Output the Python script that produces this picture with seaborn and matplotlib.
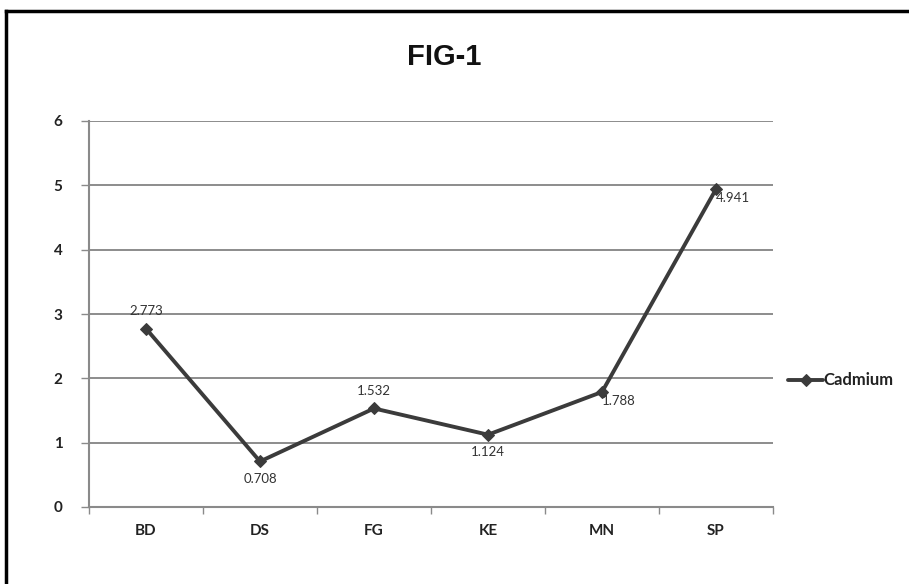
import matplotlib
matplotlib.use("Agg")
import matplotlib.pyplot as plt
import seaborn as sns
import pandas as pd
from matplotlib.lines import Line2D

sites = ["BD", "DS", "FG", "KE", "MN", "SP"]
cadmium = [2.773, 0.708, 1.532, 1.124, 1.788, 4.941]
label_text = ["2.773", "0.708", "1.532", "1.124", "1.788", "4.941"]
yticks = [0, 1, 2, 3, 4, 5, 6]

sns.set_theme(style="white")
plt.rcParams["font.family"] = ["Lato", "DejaVu Sans"]

df = pd.DataFrame({"site": sites, "Cadmium": cadmium})

fig = plt.figure(figsize=(9.09, 5.84), dpi=100)
ax = fig.add_axes([89/909, 1-507/584, (773-89)/909, (507-121)/584])

line_color = "#3b3b3b"
sns.lineplot(data=df, x="site", y="Cadmium", ax=ax, color=line_color, lw=2.8,
             marker="D", markersize=6, markeredgecolor=line_color, sort=False,
             label="Cadmium")

ax.set_ylim(0, 6)
ax.set_xlim(-0.5, len(sites) - 0.5)
ax.set_yticks(yticks)
ax.set_yticklabels([str(v) for v in yticks], fontsize=11, fontweight="bold", color="#222222")
ax.set_xticks([i - 0.5 for i in range(len(sites) + 1)])
ax.set_xticklabels([])
ax.set_xticks(range(len(sites)), minor=True)
ax.set_xticklabels(sites, minor=True, fontsize=11, fontweight="bold", color="#222222")
ax.tick_params(axis="x", which="major", direction="out", length=5, width=1, color="#8a8a8a", bottom=True)
ax.tick_params(axis="x", which="minor", length=0, pad=12)
ax.tick_params(axis="y", direction="out", length=6, width=1, color="#8a8a8a", left=True, pad=13)
ax.set_xlabel("")
ax.set_ylabel("")

ax.yaxis.grid(True, color="#8c8c8c", lw=1.4)
ax.xaxis.grid(False)
ax.set_axisbelow(True)
for s in ["top", "right"]:
    ax.spines[s].set_visible(False)
for s in ["left", "bottom"]:
    ax.spines[s].set_color("#8a8a8a")
    ax.spines[s].set_linewidth(1.5)

# data labels
offsets = [(0, 8, "center", "bottom"), (0, -8, "center", "top"), (0, 8, "center", "bottom"),
           (0, -8, "center", "top"), (0, -2, "left", "top"), (0, -2, "left", "top")]
for i, (v, t) in enumerate(zip(cadmium, label_text)):
    dx, dy, ha, va = offsets[i]
    ax.annotate(t, (i, v), xytext=(dx, dy), textcoords="offset points",
                ha=ha, va=va, fontsize=9.5, color="#333333")

leg = ax.legend(loc="center left", bbox_to_anchor=(788/909, 1-380/584), bbox_transform=fig.transFigure,
                frameon=False, handlelength=2.3, handletextpad=0.0, borderaxespad=0, borderpad=0)
for txt in leg.get_texts():
    txt.set_fontweight("bold")
    txt.set_fontsize(12)
    txt.set_color("#222222")

fig.text(444/909, 1-57/584, "FIG-1", ha="center", va="center", fontsize=21,
         fontweight="bold", family=["Liberation Sans", "DejaVu Sans"], color="#111111")

# outer frame: only top and left edges are visible (cropped picture)
top_y = 1 - 11/584
left_x = 6/909
fig.add_artist(Line2D([left_x, 1.0], [top_y, top_y], transform=fig.transFigure, color="black", lw=2.5,
                      solid_capstyle="projecting"))
fig.add_artist(Line2D([left_x, left_x], [0.0, top_y], transform=fig.transFigure, color="black", lw=2.5,
                      solid_capstyle="projecting"))

fig.savefig("out.png", dpi=100)
